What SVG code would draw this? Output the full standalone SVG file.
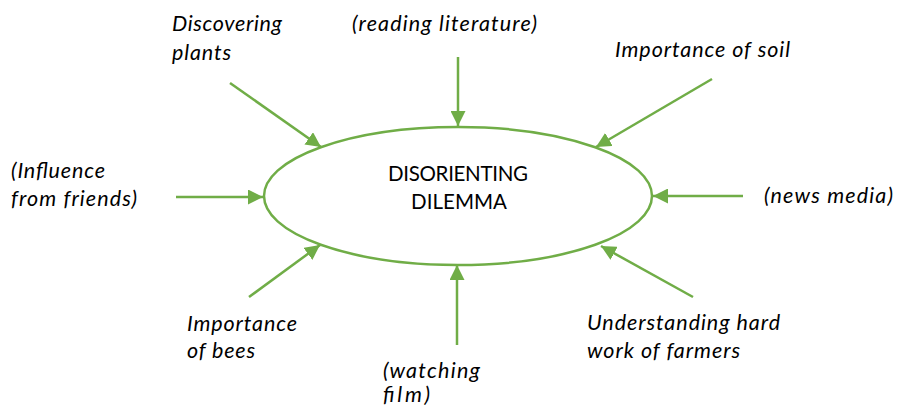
<svg xmlns="http://www.w3.org/2000/svg" width="897" height="407" viewBox="0 0 897 407">
  <style>
    .lbl { font-family: Lato, "Liberation Sans", sans-serif; font-size: 21.5px; font-style: italic; fill: #000; }
    .core { font-family: Lato, "Liberation Sans", sans-serif; font-size: 20.5px; fill: #000; text-anchor: middle; }
    .link { stroke: #70AD47; stroke-width: 2.5; fill: none; marker-end: url(#head); }
  </style>
  <defs>
    <marker id="head" viewBox="0 0 10 10" refX="10" refY="5" markerWidth="6" markerHeight="6" markerUnits="strokeWidth" orient="auto">
      <path d="M0,0 L10,5 L0,10 Z" fill="#70AD47"/>
    </marker>
  </defs>
  <rect width="897" height="407" fill="#fff"/>

  <g id="connectors">
    <line class="link" x1="458" y1="57" x2="458" y2="126"/>
    <line class="link" x1="230" y1="83" x2="321" y2="147"/>
    <line class="link" x1="712" y1="79" x2="596" y2="147"/>
    <line class="link" x1="743" y1="196" x2="653" y2="196"/>
    <line class="link" x1="176" y1="197" x2="263" y2="197"/>
    <line class="link" x1="249" y1="297" x2="320" y2="245"/>
    <line class="link" x1="457" y1="345" x2="457" y2="265"/>
    <line class="link" x1="693" y1="297" x2="601" y2="246"/>
  </g>

  <g id="dilemma">
    <ellipse cx="458" cy="196" rx="194" ry="69" fill="#fff" stroke="#70AD47" stroke-width="2.5"/>
    <text class="core" x="458" y="181" textLength="140">DISORIENTING</text>
    <text class="core" x="459" y="209" textLength="96">DILEMMA</text>
  </g>

  <g id="discovering-plants">
    <text class="lbl" x="172" y="31" textLength="110">Discovering</text>
    <text class="lbl" x="172" y="60" textLength="59">plants</text>
  </g>
  <g id="reading-literature">
    <text class="lbl" x="352" y="31" textLength="185">(reading literature)</text>
  </g>
  <g id="importance-of-soil">
    <text class="lbl" x="615" y="57" textLength="175">Importance of soil</text>
  </g>
  <g id="influence-from-friends">
    <text class="lbl" x="11" y="178" textLength="94">(Influence</text>
    <text class="lbl" x="11" y="206" textLength="126">from friends)</text>
  </g>
  <g id="news-media">
    <text class="lbl" x="764" y="203" textLength="129">(news media)</text>
  </g>
  <g id="importance-of-bees">
    <text class="lbl" x="187" y="331" textLength="110">Importance</text>
    <text class="lbl" x="187" y="358" textLength="68">of bees</text>
  </g>
  <g id="watching-film">
    <text class="lbl" x="383" y="378" textLength="97">(watching</text>
    <text class="lbl" x="383" y="402" textLength="47">film)</text>
  </g>
  <g id="hard-work-of-farmers">
    <text class="lbl" x="587" y="330" textLength="193">Understanding hard</text>
    <text class="lbl" x="587" y="358" textLength="153">work of farmers</text>
  </g>
</svg>
